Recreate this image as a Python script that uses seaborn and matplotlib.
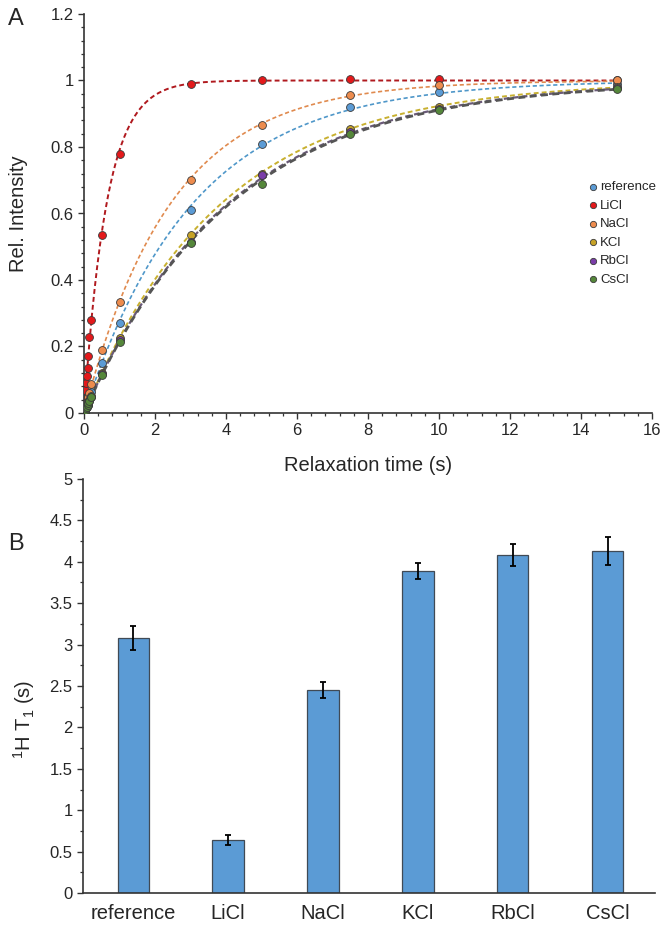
import numpy as np
import pandas as pd
import matplotlib
matplotlib.use("Agg")
import matplotlib.pyplot as plt
from matplotlib.ticker import MultipleLocator, FormatStrFormatter
import seaborn as sns

# ---------------- data ----------------
samples = ["reference", "LiCl", "NaCl", "KCl", "RbCl", "CsCl"]
times = [0, 0.02, 0.04, 0.06, 0.08, 0.1, 0.12, 0.15, 0.2, 0.5, 1, 3, 5, 7.5, 10, 15]
int_reference = [0, 0.006, 0.013, 0.019, 0.026, 0.032, 0.038, 0.047, 0.063, 0.15, 0.27, 0.61, 0.81, 0.92, 0.965, 0.99]
int_licl = [0, 0.04, 0.07, 0.09, 0.11, 0.135, 0.17, 0.228, 0.28, 0.535, 0.78, 0.99, 1.0, 1.005, 1.005, 1.0]
int_nacl = [0, 0.008, 0.016, 0.024, 0.032, 0.04, 0.048, 0.059, 0.087, 0.19, 0.335, 0.70, 0.865, 0.955, 0.985, 1.0]
int_kcl = [0, 0.005, 0.010, 0.015, 0.020, 0.025, 0.030, 0.038, 0.05, 0.12, 0.225, 0.535, 0.72, 0.855, 0.92, 0.98]
int_rbcl = [0, 0.005, 0.010, 0.015, 0.019, 0.024, 0.029, 0.036, 0.048, 0.118, 0.22, 0.515, 0.715, 0.845, 0.915, 0.978]
int_cscl = [0, 0.005, 0.010, 0.014, 0.019, 0.024, 0.029, 0.036, 0.047, 0.115, 0.215, 0.51, 0.69, 0.84, 0.91, 0.975]
t1_values = [3.08, 0.64, 2.45, 3.89, 4.08, 4.13]
t1_errors = [0.14, 0.06, 0.10, 0.10, 0.13, 0.17]

marker_colors = ["#5B9BD5", "#E3191B", "#ED8C4E", "#C6A227", "#7A3DA8", "#55873A"]
line_colors = ["#4F97C9", "#B0191E", "#E08A4E", "#C8B030", "#6A5A78", "#555555"]
line_widths = [1.2, 1.4, 1.2, 1.4, 1.6, 2.0]

# ---------------- style ----------------
sns.set_theme(style="ticks")
plt.rcParams["font.family"] = ["Liberation Sans", "DejaVu Sans"]
plt.rcParams["mathtext.fontset"] = "custom"
plt.rcParams["mathtext.rm"] = "Liberation Sans"
plt.rcParams["mathtext.it"] = "Liberation Sans:italic"

W, H = 662, 930
fig = plt.figure(figsize=(W / 100, H / 100), dpi=100)

axA = fig.add_axes([84 / W, 1 - 413 / H, (652 - 84) / W, (413 - 14) / H])
axB = fig.add_axes([83 / W, 1 - 893 / H, (655 - 83) / W, (893 - 479) / H])

spine_c = "#333333"

# ---------------- panel A ----------------
series = [int_reference, int_licl, int_nacl, int_kcl, int_rbcl, int_cscl]
frames = []
for name, vals in zip(samples, series):
    frames.append(pd.DataFrame({"time": times, "intensity": vals, "sample": name}))
dfA = pd.concat(frames, ignore_index=True)

# fitted curves from the T1 values
tfit = np.linspace(0, 15, 400)
fit_frames = []
for name, t1 in zip(samples, t1_values):
    fit_frames.append(pd.DataFrame({"time": tfit, "intensity": 1 - np.exp(-tfit / t1), "sample": name}))
dfFit = pd.concat(fit_frames, ignore_index=True)

for i, name in enumerate(samples):
    sub = dfFit[dfFit["sample"] == name]
    sns.lineplot(data=sub, x="time", y="intensity", ax=axA, color=line_colors[i],
                 linewidth=line_widths[i], dashes=False, legend=False, zorder=2)
    axA.lines[-1].set_linestyle((0, (2.5, 1.6)))

for i, name in enumerate(samples):
    sub = dfA[dfA["sample"] == name]
    sns.scatterplot(data=sub, x="time", y="intensity", ax=axA, color=marker_colors[i],
                    s=32, edgecolor="#3a3a3a", linewidth=0.6, label=name, zorder=3 + i * 0.01)

axA.set_xlim(0, 16)
axA.set_ylim(0, 1.2)
axA.xaxis.set_major_locator(MultipleLocator(2))
axA.xaxis.set_minor_locator(MultipleLocator(0.4))
axA.yaxis.set_major_locator(MultipleLocator(0.2))
axA.yaxis.set_minor_locator(MultipleLocator(0.04))
axA.yaxis.set_major_formatter(FormatStrFormatter("%g"))
axA.xaxis.set_major_formatter(FormatStrFormatter("%g"))
axA.set_xlabel("Relaxation time (s)", fontsize=14.5)
axA.set_ylabel("Rel. Intensity", fontsize=14.5)
axA.xaxis.set_label_coords(0.5, -0.108)
axA.yaxis.set_label_coords(-0.099, 0.5)
leg = axA.legend(loc="upper left", bbox_to_anchor=(0.875, 0.595), frameon=False,
                 fontsize=9.5, handletextpad=0.05, labelspacing=0.48, markerscale=0.8,
                 borderaxespad=0, handlelength=1.0)

# ---------------- panel B ----------------
dfB = pd.DataFrame({"sample": samples, "T1": t1_values, "err": t1_errors})
sns.barplot(data=dfB, x="sample", y="T1", ax=axB, color="#5B9BD5", width=0.33,
            edgecolor="#404a55", linewidth=0.9, errorbar=None, saturation=1)
axB.errorbar(x=np.arange(len(samples)), y=dfB["T1"], yerr=dfB["err"], fmt="none",
             ecolor="black", elinewidth=1.3, capsize=2.2, capthick=1.3, zorder=5)
axB.set_xlim(-0.53, 5.5)
axB.set_ylim(0, 5)
axB.yaxis.set_major_locator(MultipleLocator(0.5))
axB.yaxis.set_minor_locator(MultipleLocator(0.25))
axB.yaxis.set_major_formatter(FormatStrFormatter("%g"))
axB.set_xlabel("")
axB.set_ylabel(r"$^{1}$H T$_{1}$ (s)", fontsize=14.5)
axB.yaxis.set_label_coords(-0.080, 0.42)
axB.tick_params(axis="x", length=0, labelsize=14.5, pad=8)

for ax in (axA, axB):
    for sp in ("top", "right"):
        ax.spines[sp].set_visible(False)
    for sp in ("left", "bottom"):
        ax.spines[sp].set_color(spine_c)
        ax.spines[sp].set_linewidth(1.2)
    ax.tick_params(axis="y", which="major", direction="out", length=4, width=1.0,
                   color=spine_c, labelsize=12)
    ax.tick_params(axis="y", which="minor", direction="out", length=2.5, width=0.9, color=spine_c)
    ax.set_facecolor("white")
axA.tick_params(axis="x", which="major", direction="out", length=4, width=1.0,
                color=spine_c, labelsize=12)
axA.tick_params(axis="x", which="minor", direction="out", length=2.5, width=0.9, color=spine_c)

fig.text(8 / W, 1 - 8 / H, "A", fontsize=17, va="top", ha="left")
fig.text(8 / W, 1 - 533 / H, "B", fontsize=17, va="top", ha="left")

fig.savefig("out.png", dpi=100, facecolor="white")
